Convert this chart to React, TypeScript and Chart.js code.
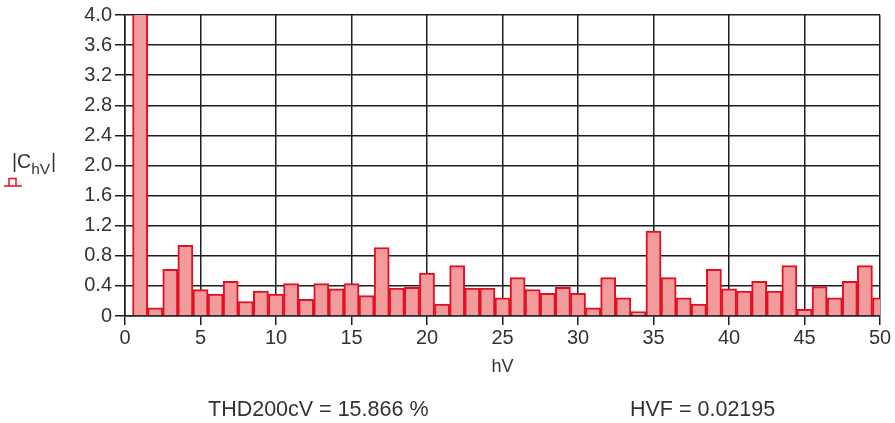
import React, { useEffect, useRef } from "react";
import { Chart, registerables } from "chart.js";
Chart.register(...registerables);

const harmonics: number[] = [
  1, 2, 3, 4, 5, 6, 7, 8, 9, 10, 11, 12, 13, 14, 15, 16, 17, 18, 19, 20, 21, 22, 23, 24, 25,
  26, 27, 28, 29, 30, 31, 32, 33, 34, 35, 36, 37, 38, 39, 40, 41, 42, 43, 44, 45, 46, 47, 48, 49, 50,
];
const magnitudes: number[] = [
  100, 0.11, 0.62, 0.94, 0.35, 0.29, 0.46, 0.19, 0.33, 0.29,
  0.43, 0.22, 0.43, 0.36, 0.43, 0.27, 0.91, 0.37, 0.38, 0.57,
  0.16, 0.67, 0.37, 0.37, 0.24, 0.51, 0.35, 0.30, 0.38, 0.30,
  0.11, 0.51, 0.24, 0.06, 1.13, 0.51, 0.24, 0.16, 0.62, 0.36,
  0.33, 0.46, 0.33, 0.67, 0.09, 0.39, 0.24, 0.46, 0.67, 0.24,
];
const xTicks: number[] = [0, 5, 10, 15, 20, 25, 30, 35, 40, 45, 50];
const yTicks: number[] = [0, 0.4, 0.8, 1.2, 1.6, 2.0, 2.4, 2.8, 3.2, 3.6, 4.0];
const xTitle = "hV";
const yTitleMain = "|C";
const yTitleSub = "hV";
const yTitleEnd = "|";
const thdText = "THD200cV = 15.866 %";
const hvfText = "HVF = 0.02195";

const FONT = "'Liberation Sans', Arial, sans-serif";
const RED = "rgb(226, 16, 32)";
const FILL = "rgba(241, 155, 156, 1)";
const GRID = "#1e1e1e";
const TEXT = "#333";

const extrasPlugin = {
  id: "extras",
  afterDraw(chart: any) {
    const ctx = chart.ctx;
    const area = chart.chartArea;
    ctx.save();
    ctx.fillStyle = TEXT;
    ctx.textBaseline = "middle";
    // x title
    ctx.font = `18px ${FONT}`;
    ctx.textAlign = "center";
    ctx.fillText(xTitle, (area.left + area.right) / 2, 367);
    // bottom texts
    ctx.font = `21.5px ${FONT}`;
    ctx.textAlign = "left";
    ctx.fillText(thdText, 208, 410);
    ctx.fillText(hvfText, 630, 410);
    // y title with subscript
    ctx.textBaseline = "alphabetic";
    ctx.font = `19.5px ${FONT}`;
    let x = 12;
    const y = 168;
    ctx.fillText(yTitleMain, x, y);
    x += ctx.measureText(yTitleMain).width;
    ctx.font = `15.5px ${FONT}`;
    ctx.fillText(yTitleSub, x, y + 6);
    x += ctx.measureText(yTitleSub).width + 1;
    ctx.font = `19.5px ${FONT}`;
    ctx.fillText(yTitleEnd, x, y);
    // legend icon
    ctx.strokeStyle = RED;
    ctx.lineWidth = 1.5;
    ctx.beginPath();
    ctx.moveTo(4, 186);
    ctx.lineTo(22, 186);
    ctx.moveTo(9, 186);
    ctx.lineTo(9, 178.5);
    ctx.lineTo(16, 178.5);
    ctx.lineTo(16, 186);
    ctx.stroke();
    ctx.restore();
  },
};

export default function App() {
  const ref = useRef<HTMLCanvasElement>(null);
  useEffect(() => {
    if (!ref.current) return;
    const chart = new Chart(ref.current, {
      type: "bar",
      data: {
        datasets: [
          {
            data: harmonics.map((h, i) => ({ x: h, y: magnitudes[i] })),
            backgroundColor: FILL,
            borderColor: RED,
            borderWidth: 2,
            barPercentage: 1,
            categoryPercentage: 1,
          } as any,
        ],
      },
      options: {
        animation: false,
        responsive: false,
        events: [],
        layout: { padding: { left: 0, top: 14, right: 15, bottom: 0 } },
        plugins: { legend: { display: false }, tooltip: { enabled: false } },
        scales: {
          x: {
            type: "linear",
            min: 0,
            max: 50,
            offset: false,
            afterBuildTicks: (s: any) => {
              s.ticks = xTicks.map((v) => ({ value: v }));
            },
            afterFit: (s: any) => {
              s.height = 107;
            },
            grid: { color: GRID, lineWidth: 1.5, tickLength: 9, offset: false, drawTicks: true },
            border: { color: GRID, width: 1.5 },
            ticks: {
              color: TEXT,
              padding: 1,
              maxRotation: 0,
              autoSkip: false,
              font: { family: FONT, size: 20 },
              callback: (v: any) => String(v),
            },
          },
          y: {
            type: "linear",
            min: 0,
            max: 4,
            afterBuildTicks: (s: any) => {
              s.ticks = yTicks.map((v) => ({ value: v }));
            },
            afterFit: (s: any) => {
              s.width = 125;
            },
            grid: { color: GRID, lineWidth: 1.5, tickLength: 10 },
            border: { color: GRID, width: 1.5 },
            ticks: {
              color: TEXT,
              padding: 3,
              autoSkip: false,
              font: { family: FONT, size: 20 },
              callback: (v: any) => (v === 0 ? "0" : Number(v).toFixed(1)),
            },
          },
        },
      },
      plugins: [extrasPlugin],
    });
    return () => chart.destroy();
  }, []);
  return (
    <div style={{ position: "absolute", left: 0, top: 0, width: 895, height: 423, background: "#fff" }}>
      <canvas ref={ref} width={895} height={423} style={{ width: 895, height: 423 }} />
    </div>
  );
}
